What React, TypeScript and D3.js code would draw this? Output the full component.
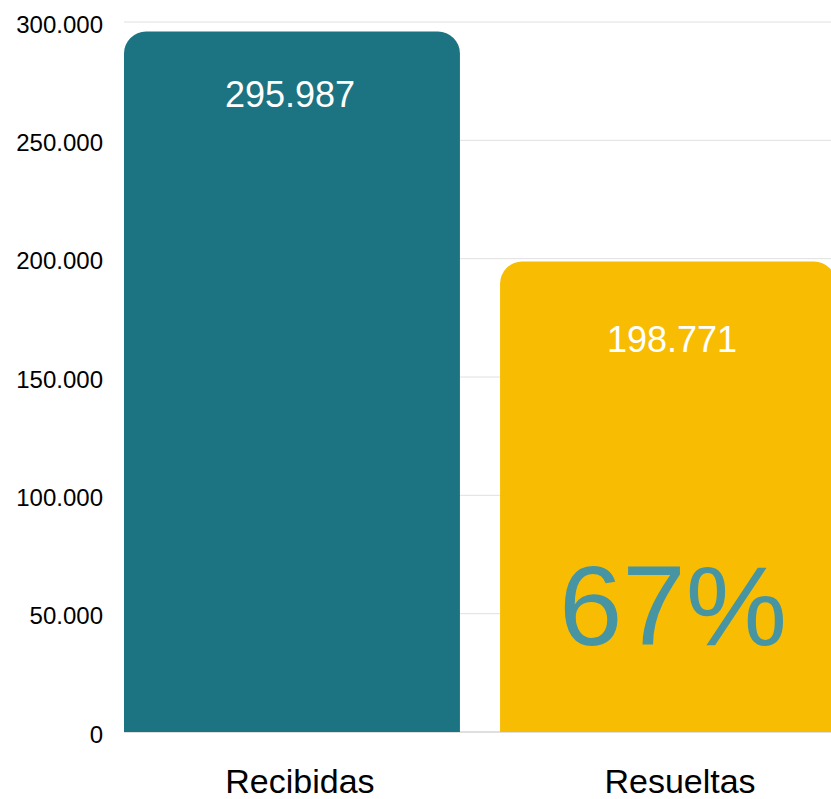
import React, { useEffect } from "react";
import * as d3 from "d3";

const categories = ["Recibidas", "Resueltas"];
const values = [295987, 198771];
const valueLabels = ["295.987", "198.771"];
const barColors = ["#1c7382", "#f8bd03"];
const ratioLabel = "67%";
const tickValues = [0, 50000, 100000, 150000, 200000, 250000, 300000];
const tickLabels = ["0", "50.000", "100.000", "150.000", "200.000", "250.000", "300.000"];

const W = 831;
const H = 799;
const margin = { left: 124, top: 22, bottom: 67 };
const FONT = "'Liberation Sans', Arial, sans-serif";

function topRoundedRect(x: number, y: number, w: number, h: number, r: number) {
  const rr = Math.min(r, w / 2, h);
  const p = d3.path();
  p.moveTo(x, y + h);
  p.lineTo(x, y + rr);
  p.arcTo(x, y, x + rr, y, rr);
  p.lineTo(x + w - rr, y);
  p.arcTo(x + w, y, x + w, y + rr, rr);
  p.lineTo(x + w, y + h);
  p.closePath();
  return p.toString();
}

export default function App() {
  useEffect(() => {
    document.body.style.margin = "0";
  }, []);

  const x = d3
    .scaleBand<string>()
    .domain(categories)
    .range([margin.left, margin.left + 712])
    .paddingInner(0.1067)
    .paddingOuter(0);
  const y = d3
    .scaleLinear()
    .domain([0, 300000])
    .range([H - margin.bottom, margin.top]);

  const bw = x.bandwidth();
  const y0 = y(0);

  return (
    <svg width={W} height={H} style={{ display: "block" }}>
      <rect x={0} y={0} width={W} height={H} fill="#fff" />
      {tickValues.map((t, i) => (
        <g key={t}>
          {t !== 0 && (
            <line x1={margin.left} x2={W} y1={y(t)} y2={y(t)} stroke="#e0e0e0" strokeWidth={1} />
          )}
          <text
            x={103}
            y={y(t) + 2}
            textAnchor="end"
            dominantBaseline="central"
            fontSize={24}
            fill="#000"
            fontFamily={FONT}
          >
            {tickLabels[i]}
          </text>
        </g>
      ))}
      <line x1={margin.left} x2={W} y1={y0} y2={y0} stroke="#bfbfbf" strokeWidth={1} />
      {categories.map((c, i) => {
        const bx = x(c) as number;
        const by = y(values[i]);
        return (
          <g key={c}>
            <path d={topRoundedRect(bx, by, bw, y0 - by, 22)} fill={barColors[i]} />
            <text
              x={bx + bw / 2 + (i === 0 ? -2 : 4)}
              y={by + (i === 0 ? 76 : 90)}
              textAnchor="middle"
              fontSize={36}
              fill="#fff"
              fontFamily={FONT}
            >
              {valueLabels[i]}
            </text>
            <text
              x={bx + bw / 2 + (i === 0 ? 8 : 12)}
              y={H - 6}
              textAnchor="middle"
              fontSize={34}
              fill="#000"
              fontFamily={FONT}
            >
              {c}
            </text>
          </g>
        );
      })}
      <text
        x={(x(categories[1]) as number) + bw / 2 + 5}
        y={645}
        textAnchor="middle"
        fontSize={114}
        fill="#4795a3"
        fontFamily={FONT}
      >
        {ratioLabel}
      </text>
    </svg>
  );
}
